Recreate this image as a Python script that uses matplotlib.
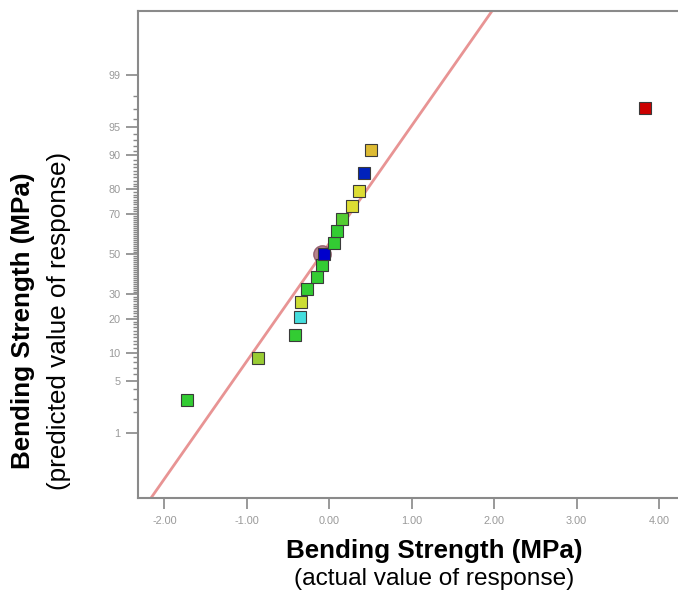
import matplotlib
matplotlib.use("Agg")
import matplotlib.pyplot as plt
from statistics import NormalDist

# ---------------- data ----------------
residuals = [-1.72, -0.87, -0.42, -0.36, -0.34, -0.27, -0.15, -0.09, -0.06,
             0.06, 0.09, 0.15, 0.27, 0.36, 0.42, 0.51, 3.83]
probability = [2.9, 8.8, 14.7, 20.6, 26.5, 32.4, 38.2, 44.1, 50.0,
               55.9, 61.8, 67.6, 73.5, 79.4, 85.3, 91.2, 97.1]
point_colors = ['#33cc33', '#99cc33', '#33cc33', '#44dddd', '#ccdd33', '#33cc33',
                '#33cc33', '#33cc33', '#0000cc', '#33cc33', '#33cc33', '#55cc33',
                '#dddd33', '#dddd33', '#0022bb', '#ddbb33', '#cc0000']
highlight_index = 8
line_mean = -0.09
line_sd = 0.654
y_ticks = [1, 5, 10, 20, 30, 50, 70, 80, 90, 95, 99]
x_ticks = [-2, -1, 0, 1, 2, 3, 4]
x_tick_labels = ['-2.00', '-1.00', '0.00', '1.00', '2.00', '3.00', '4.00']

nd = NormalDist()
def z(p):
    return nd.inv_cdf(p / 100.0)

plt.rcParams['font.family'] = ['Liberation Sans', 'DejaVu Sans']

fig = plt.figure(figsize=(6.78, 5.93), dpi=100)
ax = fig.add_axes([138/678, 1-497.7/593, 1-138/678, (497.7-11)/593])

# fitted line
ylo, yhi = -3.165, 3.156
xs = [line_mean + line_sd * ylo, line_mean + line_sd * yhi]
ax.plot(xs, [ylo, yhi], color='#e89494', lw=2, zorder=2, solid_capstyle='butt')

# highlight circle
ax.plot(residuals[highlight_index] - 0.03, z(probability[highlight_index]), 'o',
        ms=12.5, mfc='#b07880', mec='#905868', mew=1, alpha=0.9, zorder=3)

for x, p, c in zip(residuals, probability, point_colors):
    ax.plot(x, z(p), 's', ms=8, mfc=c, mec='#3a3a3a', mew=0.8, zorder=4)

ax.set_xlim(-2.32, 4.23)
ax.set_ylim(ylo, yhi)

ax.set_xticks(x_ticks)
ax.set_xticklabels(x_tick_labels)
ax.set_yticks([z(p) for p in y_ticks])
ax.set_yticklabels([str(p) for p in y_ticks])
ax.set_yticks([z(p) for p in range(1, 100) if p not in y_ticks], minor=True)

ax.spines['right'].set_visible(False)
for s in ['left', 'bottom', 'top']:
    ax.spines[s].set_color('#8a8a8a')
    ax.spines[s].set_linewidth(1.5)

ax.tick_params(axis='both', which='major', colors='#888888', labelcolor='#999999',
               labelsize=7.8, width=1.2, length=8.5, pad=4)
ax.tick_params(axis='y', which='minor', colors='#888888', width=1.0, length=3.5)
ax.tick_params(axis='x', which='major', length=8, pad=5)

fig.text(23/678, 1-321/593, 'Bending Strength (MPa)', rotation=90, fontsize=18.7,
         fontweight='bold', ha='center', va='center')
fig.text(59/678, 1-321/593, '(predicted value of response)', rotation=90, fontsize=18.8,
         ha='center', va='center')
fig.text(434/678, 1-551/593, 'Bending Strength (MPa)', fontsize=18.7,
         fontweight='bold', ha='center', va='center')
fig.text(434/678, 1-579/593, '(actual value of response)', fontsize=17.6,
         ha='center', va='center')

fig.savefig('out.png', dpi=100)
